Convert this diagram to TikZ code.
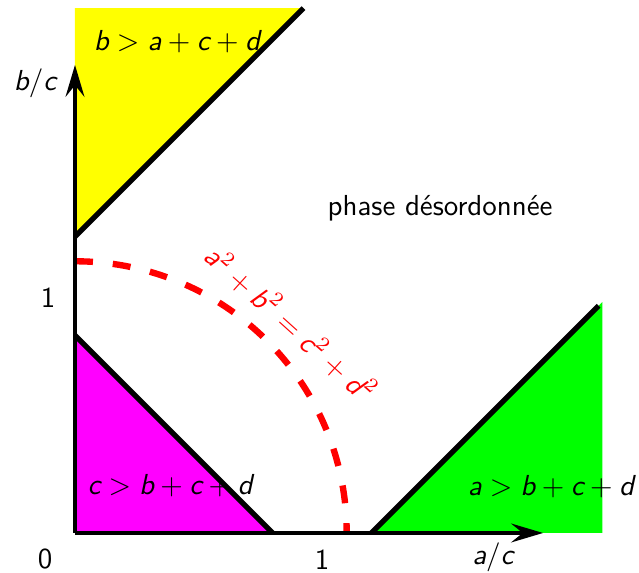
\documentclass[tikz,border=0pt]{standalone}
\usepackage{amsmath}
\usetikzlibrary{arrows.meta}
\renewcommand{\familydefault}{\sfdefault}
\newcommand{\sv}[1]{\textsf{\itshape #1}}
\definecolor{bregion}{rgb}{1,1,0}
\definecolor{cregion}{rgb}{1,0,1}
\definecolor{aregion}{rgb}{0,1,0}

\begin{document}
\begin{tikzpicture}[x=3cm,y=3cm,
    axis/.style={line width=1.4pt,-{Stealth[length=11pt,width=6.5pt,inset=4pt]}},
    frontier/.style={line width=1.8pt},
    circleline/.style={red,line width=2.2pt,dash pattern=on 6.2pt off 6.9pt},
    regionlabel/.style={inner sep=0pt}]
    \useasboundingbox (-0.3036,-0.1619) rectangle (2.2834,2.1579);
    % points
    \coordinate (O) at (0,0);
    \coordinate (xtip) at (1.895,0);
    \coordinate (ytip) at (0,1.895);
    \coordinate (ylow) at (0,0.8);
    \coordinate (xlow) at (0.8,0);
    \coordinate (yhigh) at (0,1.2);
    \coordinate (xhigh) at (1.2,0);
    \coordinate (ycorner) at (0.925,2.125);
    \coordinate (xcorner) at (2.12,0.92);
    \coordinate (rtop) at (0,1.1);
    % regions
    \fill[bregion] (yhigh) -- (ycorner) -- (0,2.125) -- cycle;
    \fill[cregion] (O) -- (ylow) -- (xlow) -- cycle;
    \fill[aregion] (xhigh) -- (2.135,0.935) -- (2.135,0) -- cycle;
    % circle a^2+b^2=c^2+d^2
    \draw[circleline] (rtop) arc[start angle=90,end angle=0,radius=1.1];
    % frontiers
    \draw[frontier] (ylow) -- (xlow);
    \draw[frontier] (yhigh) -- (ycorner);
    \draw[frontier] (xhigh) -- (xcorner);
    % axes
    \draw[axis] (O) -- (xtip);
    \draw[axis] (O) -- (ytip);
    % labels
    \node (lbc) at (-0.162,1.822) {$\sv{b}/\sv{c}$};
    \node (lac) at (1.692,-0.097) {$\sv{a}/\sv{c}$};
    \node (lzero) at (-0.121,-0.105) {0};
    \node (lxone) at (1.0,-0.11) {1};
    \node (lyone) at (-0.109,0.951) {1};
    \node[regionlabel] (lb) at (0.413,1.988) {$\sv{b} > \sv{a} + \sv{c} + \sv{d}$};
    \node[regionlabel] (lc) at (0.385,0.19) {$\sv{c} > \sv{b} + \sv{c} + \sv{d}$};
    \node[regionlabel] (la) at (1.927,0.186) {$\sv{a} > \sv{b} + \sv{c} + \sv{d}$};
    \node[regionlabel] (lphase) at (1.478,1.316) {phase désordonnée};
    \node[regionlabel,red,rotate=-42] (lcircle) at (0.874,0.85)
        {$\sv{a}^2 + \sv{b}^2 = \sv{c}^2 + \sv{d}^2$};
\end{tikzpicture}
\end{document}
